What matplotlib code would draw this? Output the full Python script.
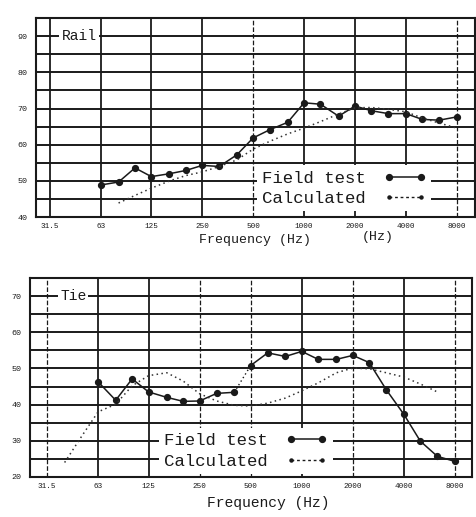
import numpy as np
import matplotlib
matplotlib.use("Agg")
import matplotlib.pyplot as plt
from matplotlib.lines import Line2D

plt.rcParams["font.family"] = ["Liberation Mono", "DejaVu Sans Mono"]

# octave grid / tick labels
octave_freqs = [31.5, 63, 125, 250, 500, 1000, 2000, 4000, 8000]
octave_labels = ["31.5", "63", "125", "250", "500", "1000", "2000", "4000", "8000"]

# 1/3 octave band centres of the field test
third_freqs = [63, 80, 100, 125, 160, 200, 250, 315, 400, 500, 630, 800,
               1000, 1250, 1600, 2000, 2500, 3150, 4000, 5000, 6300, 8000]

# Rail
rail_field = [48.9, 49.7, 53.6, 51.2, 52.0, 52.9, 54.3, 54.0, 57.2, 61.9, 64.2, 66.2,
              71.6, 71.2, 67.9, 70.7, 69.4, 68.6, 68.6, 67.0, 66.8, 67.7]
rail_calc_freqs = [80, 100, 125, 160, 200, 250, 315, 400, 500, 630, 800,
                   1000, 1250, 1600, 2000, 2500, 3150, 4000, 5000, 6300, 8000]
rail_calc = [43.9, 46.0, 48.0, 50.0, 51.5, 52.5, 54.0, 55.8, 58.8, 61.0, 63.0,
             64.6, 66.4, 68.5, 70.2, 70.3, 69.8, 69.1, 67.4, 66.0, 64.6]

# Tie
tie_field = [46.3, 41.2, 47.1, 43.5, 42.0, 40.9, 41.0, 43.1, 43.4, 50.8, 54.3, 53.3,
             54.7, 52.5, 52.5, 53.6, 51.6, 44.1, 37.3, 29.9, 25.7, 24.3]
tie_calc_freqs = [40, 50, 63, 80, 100, 125, 160, 200, 250, 315, 400, 500, 630, 800,
                  1000, 1250, 1600, 2000, 2500, 3150, 4000, 5000, 6300]
tie_calc = [24.0, 31.0, 38.0, 40.1, 45.2, 48.0, 48.8, 46.5, 43.0, 41.0, 39.8, 39.6,
            40.4, 41.8, 43.8, 46.0, 48.8, 50.1, 49.9, 48.8, 47.6, 45.7, 43.5]

rail_vstyles = ["-", "-", "-", "-", "--", "-", "-", "-", "--"]
tie_vstyles = ["--", "-", "-", "--", "--", "-", "--", "-", "--"]

INK = "#1a1a1a"


def draw_panel(ax, name, name_x, field, calc_f, calc, ylim, xlim, vstyles, gap = None, leg_anchor = (0.95, 0.02)):

    ax.set_xscale("log")
    ax.set_xlim(*xlim)
    ax.set_ylim(*ylim)

    # horizontal grid every 5 dB
    for y in np.arange(ylim[0] + 5, ylim[1], 5):
        ax.axhline(y, color = INK, linewidth = 1.4, zorder = 1)

    # octave verticals
    for f, ls in zip(octave_freqs, vstyles):
        lw = 1.3 if ls == "-" else 0.9
        ax.axvline(f, color = INK, linewidth = lw, linestyle = ls, zorder = 1)

    # field test
    if gap is None:
        ax.plot(third_freqs, field, color = INK, linewidth = 1.1, marker = "o", markersize = 4.2, zorder = 3)
    else:
        ax.plot(third_freqs[:gap + 1], field[:gap + 1], color = INK, linewidth = 1.1, marker = "o", markersize = 4.2, zorder = 3)
        ax.plot(third_freqs[gap:gap + 2], field[gap:gap + 2], color = INK, linewidth = 1.0, linestyle = (0, (1, 2)), zorder = 3)
        ax.plot(third_freqs[gap + 1:], field[gap + 1:], color = INK, linewidth = 1.1, marker = "o", markersize = 4.2, zorder = 3)

    # calculated
    ax.plot(calc_f, calc, color = "#333333", linewidth = 1.1, linestyle = (0, (1, 2.2)), zorder = 3)

    ax.set_xticks(octave_freqs)
    ax.set_xticklabels(octave_labels)
    ax.xaxis.set_minor_locator(matplotlib.ticker.NullLocator())
    ax.set_yticks(np.arange(ylim[0], ylim[1], 10))
    ax.tick_params(axis = "x", length = 0, labelsize = 5.5, pad = 4, colors = INK)
    ax.tick_params(axis = "y", length = 0, labelsize = 6, pad = 6, colors = INK)

    for s in ax.spines.values():
        s.set_linewidth(1.5)
        s.set_color(INK)

    ax.text(name_x, ylim[1] - 5, name, transform = ax.get_yaxis_transform(), fontsize = 10.5,
            color = INK, va = "center", ha = "left", zorder = 4,
            bbox = dict(facecolor = "white", edgecolor = "none", pad = 1.5))

    h_field = Line2D([], [], color = INK, linewidth = 1.1, marker = "o", markersize = 4.2)
    h_calc = Line2D([], [], color = INK, linewidth = 1.0, linestyle = (0, (2, 2)), marker = "o", markersize = 2.2)
    leg = ax.legend([h_field, h_calc], ["Field test", "Calculated"], loc = "lower right",
                    bbox_to_anchor = leg_anchor, borderaxespad = 0, markerfirst = False, numpoints = 2,
                    prop = {"size": 12.5}, labelspacing = 0.3, handlelength = 2.4, handletextpad = 1.05,
                    borderpad = 0.3, fancybox = False, framealpha = 1.0, facecolor = "white", edgecolor = "none")
    leg.set_zorder(5)
    for t in leg.get_texts():
        t.set_color(INK)


fig = plt.figure(figsize = (4.77, 5.17), dpi = 100)

ax_r = fig.add_axes([0.0755, 0.580, 0.920, 0.385])
draw_panel(ax_r, "Rail", 0.058, rail_field, rail_calc_freqs, rail_calc, (40, 95), (26.0, 10225), rail_vstyles,
           leg_anchor = (0.90, 0.03))
ax_r.set_xlabel("Frequency (Hz)", fontsize = 9.5, labelpad = 3, color = INK)
ax_r.text(0.779, -0.10, "(Hz)", transform = ax_r.transAxes, fontsize = 9.5, ha = "center", va = "center", color = INK)

ax_t = fig.add_axes([0.0629, 0.0774, 0.9266, 0.385])
draw_panel(ax_t, "Tie", 0.068, tie_field, tie_calc_freqs, tie_calc, (20, 75), (25.0, 10080), tie_vstyles,
           gap = 8, leg_anchor = (0.685, 0.015))
ax_t.set_xlabel("Frequency (Hz)", fontsize = 10.5, labelpad = 5, color = INK, x = 0.54)

fig.savefig("out.png", dpi = 100)
